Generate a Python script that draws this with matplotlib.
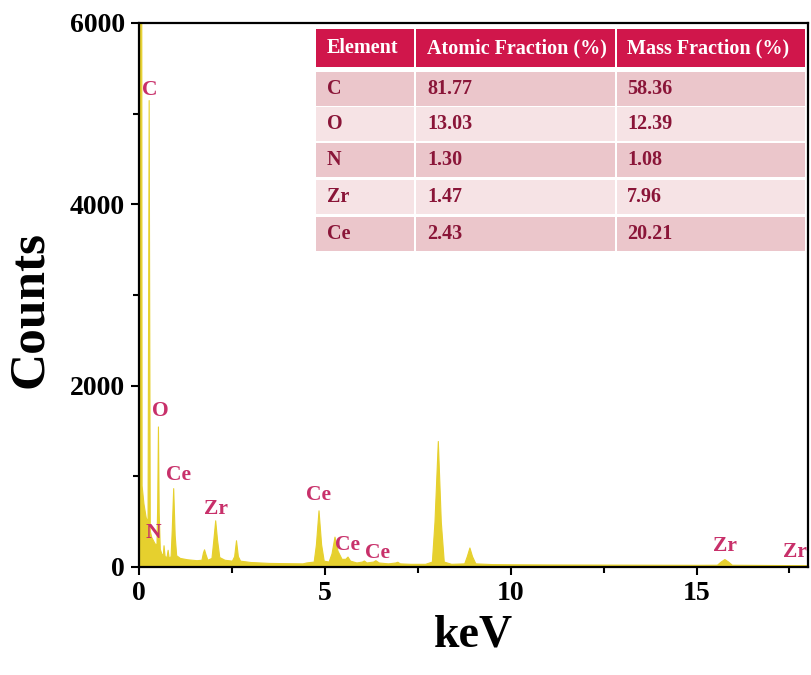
import matplotlib
matplotlib.use("Agg")
import matplotlib.pyplot as plt
from matplotlib.patches import Rectangle
from matplotlib.ticker import MultipleLocator

# EDS spectrum outline (keV, counts)
energy = [0.00, 0.01, 0.06, 0.07, 0.12, 0.18, 0.23, 0.26, 0.29, 0.33, 0.37, 0.42,
          0.47, 0.49, 0.51, 0.53, 0.56, 0.60, 0.64, 0.66, 0.69, 0.74, 0.77, 0.80,
          0.85, 0.88, 0.92, 0.96, 1.00, 1.10, 1.30, 1.55, 1.68, 1.72, 1.75, 1.79,
          1.84, 1.95, 2.00, 2.05, 2.10, 2.16, 2.30, 2.50, 2.56, 2.61, 2.66, 2.72,
          3.00, 3.50, 4.00, 4.40, 4.50, 4.70, 4.76, 4.83, 4.90, 4.97, 5.10, 5.18,
          5.26, 5.34, 5.45, 5.55, 5.61, 5.68, 5.85, 6.00, 6.05, 6.12, 6.30, 6.36,
          6.45, 6.70, 6.90, 6.95, 7.02, 7.30, 7.70, 7.88, 7.95, 8.04, 8.12, 8.20,
          8.40, 8.75, 8.82, 8.89, 8.96, 9.05, 9.50, 10.0, 11.0, 12.0, 13.0, 14.0,
          15.0, 15.55, 15.65, 15.75, 15.85, 15.95, 17.0, 18.0]
counts = [0, 7000, 7000, 900, 700, 550, 500, 5150, 400, 330, 300, 260,
          250, 700, 1550, 600, 200, 150, 130, 240, 120, 110, 190, 100,
          120, 400, 870, 350, 130, 100, 85, 75, 80, 160, 195, 140,
          80, 100, 300, 515, 300, 110, 80, 70, 120, 295, 120, 70,
          55, 45, 42, 40, 50, 60, 250, 625, 250, 70, 60, 150,
          335, 180, 90, 90, 115, 70, 50, 60, 72, 50, 60, 75,
          50, 40, 50, 58, 40, 35, 35, 60, 500, 1390, 500, 60,
          35, 40, 120, 215, 120, 40, 32, 30, 28, 27, 26, 25,
          24, 25, 60, 88, 60, 25, 22, 20]

# peak labels: text, x (keV), y (counts)
peak_names = ["C", "O", "N", "Ce", "Zr", "Ce", "Ce", "Ce", "Zr", "Zr"]
peak_x = [0.28, 0.58, 0.38, 1.07, 2.07, 4.82, 5.62, 6.42, 15.77, 17.65]
peak_y = [5260, 1720, 370, 1010, 640, 790, 245, 155, 232, 165]

# composition table
elements = ["C", "O", "N", "Zr", "Ce"]
atomic_frac = ["81.77", "13.03", "1.30", "1.47", "2.43"]
mass_frac = ["58.36", "12.39", "1.08", "7.96", "20.21"]
headers = ["Element", "Atomic Fraction (%)", "Mass Fraction (%)"]

plt.rcParams["font.family"] = ["Liberation Serif", "DejaVu Serif"]
plt.rcParams["font.weight"] = "bold"

W, H = 811, 675
fig = plt.figure(figsize=(W / 100, H / 100), dpi=100)
ax = fig.add_axes([139 / W, 1 - 567 / H, (808 - 139) / W, (567 - 23) / H])

yellow = "#E6D02E"
ax.fill_between(energy, counts, 0, color=yellow, linewidth=0.8, edgecolor=yellow)

ax.set_xlim(0, 18)
ax.set_ylim(0, 6000)
ax.xaxis.set_major_locator(MultipleLocator(5))
ax.xaxis.set_minor_locator(MultipleLocator(2.5))
ax.yaxis.set_major_locator(MultipleLocator(2000))
ax.yaxis.set_minor_locator(MultipleLocator(1000))
ax.tick_params(which="major", direction="out", length=6, width=1.5, labelsize=20, pad=4)
ax.tick_params(which="minor", direction="out", length=4, width=1.5)
for lab in ax.get_xticklabels() + ax.get_yticklabels():
    lab.set_fontweight("bold")
for sp in ax.spines.values():
    sp.set_linewidth(1.6)

ax.set_xlabel("keV", fontsize=33, fontweight="bold", labelpad=6)
ax.set_ylabel("Counts", fontsize=37, fontweight="bold")
ax.yaxis.set_label_coords(-0.129, 0.474)

label_color = "#C8306A"
for name, x, y in zip(peak_names, peak_x, peak_y):
    ax.text(x, y, name, color=label_color, fontsize=15.5, fontweight="bold",
            ha="center", va="center")

# table drawn in pixel coordinates
def px_rect(x0, y0, x1, y1, color):
    fig.add_artist(Rectangle((x0 / W, 1 - y1 / H), (x1 - x0) / W, (y1 - y0) / H,
                             facecolor=color, edgecolor="none",
                             transform=fig.transFigure, zorder=5))

col_edges = [(316, 414), (416, 615), (617, 805)]
text_x = [327, 427, 627]
header_c = "#D0164B"
row_dark = "#EBC6CB"
row_light = "#F6E3E5"
text_c = "#8A1538"

for (x0, x1), tx, h in zip(col_edges, text_x, headers):
    px_rect(x0, 29, x1, 67, header_c)
    fig.text(tx / W, 1 - 48 / H, h, color="white", fontsize=14.5,
             fontweight="bold", va="center", zorder=6)

row_top = [72, 107, 143, 180, 217]
for i, (el, af, mf) in enumerate(zip(elements, atomic_frac, mass_frac)):
    y0 = row_top[i]
    y1 = y0 + 34
    c = row_dark if i % 2 == 0 else row_light
    for (x0, x1), tx, s in zip(col_edges, text_x, [el, af, mf]):
        px_rect(x0, y0, x1, y1, c)
        fig.text(tx / W, 1 - (y0 + y1) / 2 / H, s, color=text_c, fontsize=14.5,
                 fontweight="bold", va="center", zorder=6)

fig.savefig("out.png", dpi=100)
